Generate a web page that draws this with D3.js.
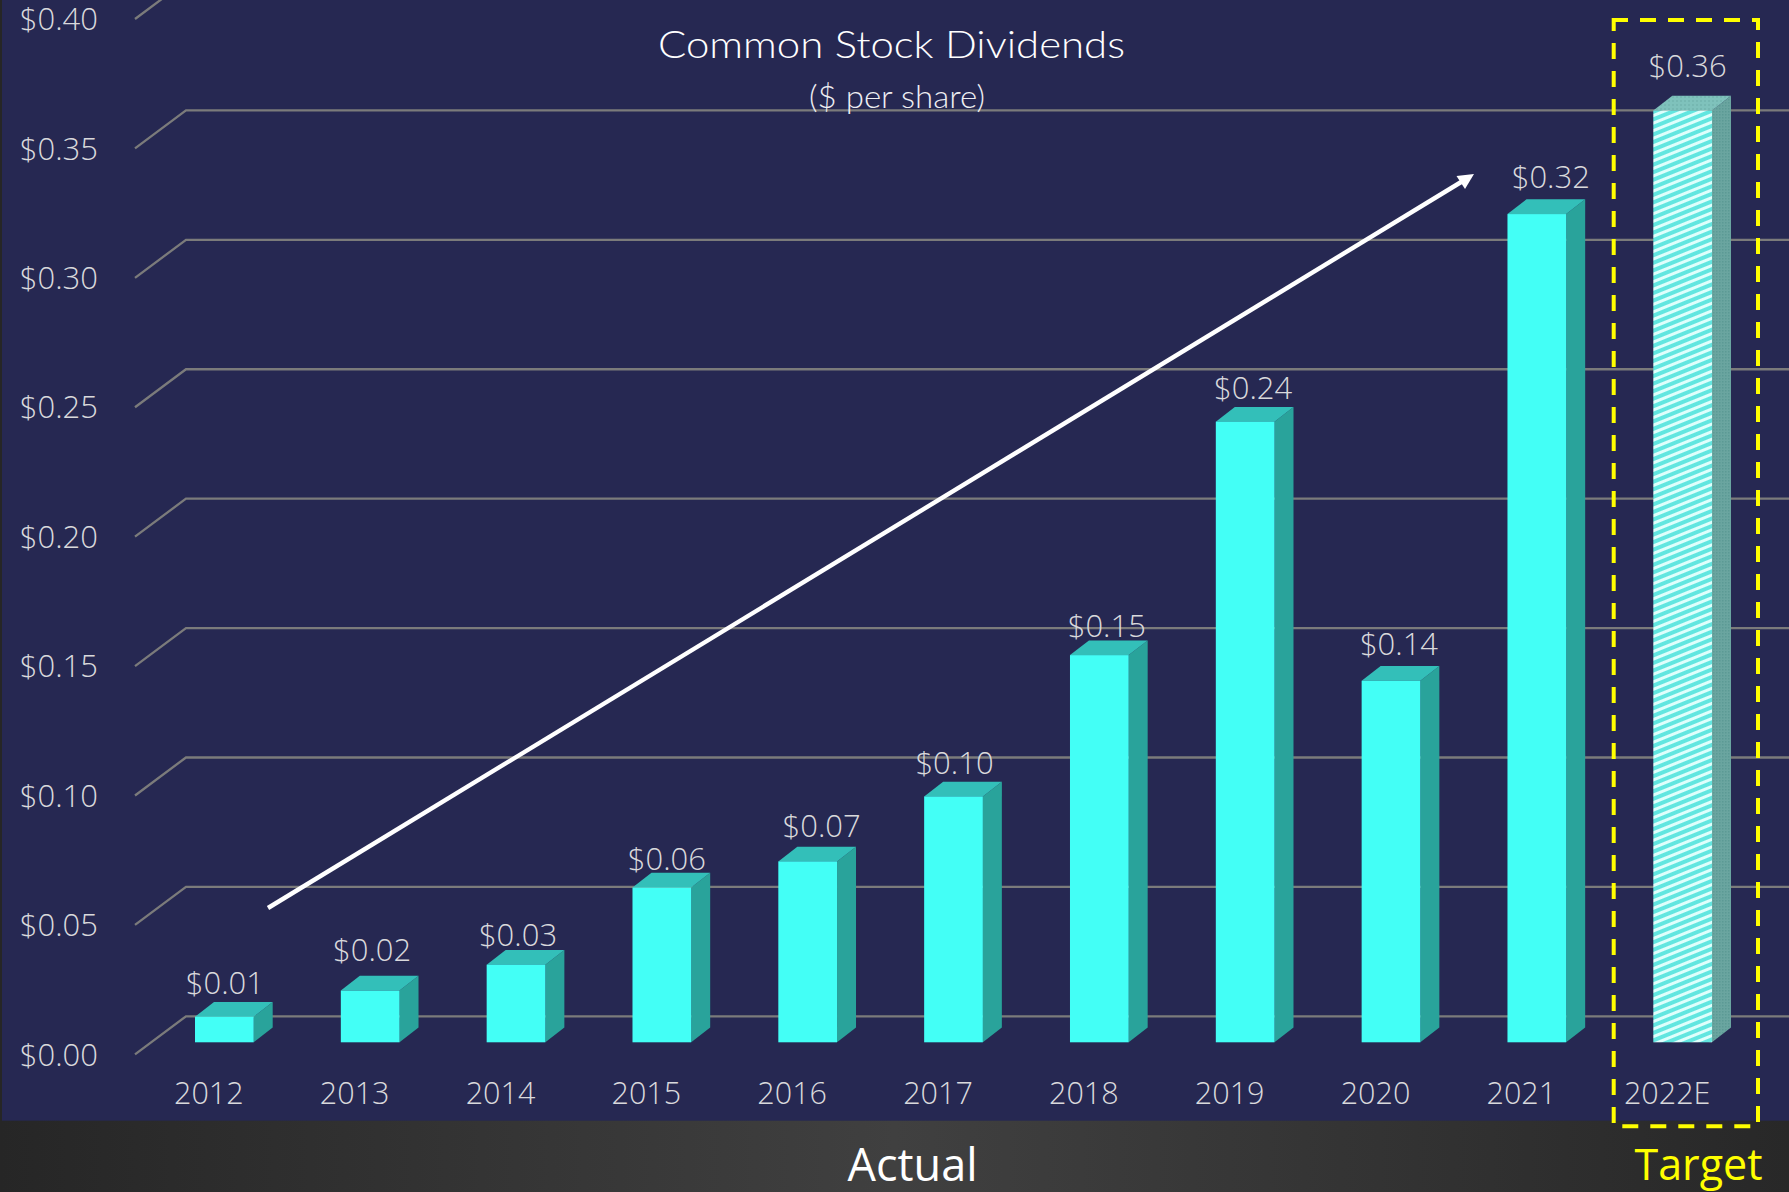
<!DOCTYPE html>
<html><head><meta charset="utf-8">
<script src="https://cdnjs.cloudflare.com/ajax/libs/d3/7.8.5/d3.min.js"></script>
<style>html,body{margin:0;padding:0;background:#262626;overflow:hidden}svg{display:block}
text{font-family:"Open Sans",sans-serif}</style></head><body><div id="c"></div>
<script>
const categories=["2012","2013","2014","2015","2016","2017","2018","2019","2020","2021","2022E"];
const barValues=[0.0099,0.02,0.03,0.0598,0.0699,0.095,0.1496,0.2398,0.1397,0.32,0.36];
const valueLabels=["$0.01","$0.02","$0.03","$0.06","$0.07","$0.10","$0.15","$0.24","$0.14","$0.32","$0.36"];
const yTicks=[0,0.05,0.10,0.15,0.20,0.25,0.30,0.35,0.40];

// layout (not data)
const W=1789,H=1192,step=145.83,barW=58.7;
const labelNudgeX=[0.5,2,2,5,14,1,7.5,8,8,14,5];
const labelGapY=[22.4,29.8,19,17.7,24.7,22.3,17.7,22.7,25.7,26,34];

const svg=d3.select("#c").append("svg").attr("width",W).attr("height",H);
const defs=svg.append("defs");
const g0=defs.append("linearGradient").attr("id","band").attr("x1",0).attr("x2",1).attr("y1",0).attr("y2",0);
[[0,"#262626"],[0.5,"#404040"],[1,"#282828"]].forEach(s=>g0.append("stop").attr("offset",s[0]).attr("stop-color",s[1]));
const pf=defs.append("pattern").attr("id","hatchFront").attr("patternUnits","userSpaceOnUse").attr("width",8).attr("height",7).attr("patternTransform","rotate(-22)");
pf.append("rect").attr("width",8).attr("height",7).attr("fill","#dffffc");
pf.append("rect").attr("y",0).attr("width",8).attr("height",4).attr("fill","#62e6e0");
const pt=defs.append("pattern").attr("id","hatchTop").attr("patternUnits","userSpaceOnUse").attr("width",4).attr("height",4);
pt.append("rect").attr("width",4).attr("height",4).attr("fill","#7fc2bc");
pt.append("rect").attr("width",2).attr("height",2).attr("fill","#76b8b2");
const ps=defs.append("pattern").attr("id","hatchSide").attr("patternUnits","userSpaceOnUse").attr("width",3).attr("height",3);
ps.append("rect").attr("width",3).attr("height",3).attr("fill","#6aa5a0");
ps.append("rect").attr("width",1.5).attr("height",1.5).attr("fill","#5b9a95");

svg.append("rect").attr("width",W).attr("height",H).attr("fill","url(#band)");
svg.append("rect").attr("x",2).attr("width",W-2).attr("height",1120.7).attr("fill","#262852");

// scales
const y=d3.scaleLinear().domain([0,0.4]).range([1054.3,19]);
const x0=195-(step-barW)/2;
const x=d3.scaleBand().domain(categories).range([x0,x0+step*categories.length]).paddingInner(1-barW/step).paddingOuter((1-barW/step)/2);
const wallDx=51,wallDy=-38,barDx=19,barDy=-14.7,floorLift=-12;

// gridlines
const grid=svg.append("g");
grid.selectAll("path").data(yTicks).join("path")
 .attr("d",v=>`M135,${y(v)}L${135+wallDx},${y(v)+wallDy}L${W},${y(v)+wallDy}`)
 .attr("fill","none").attr("stroke","#7b7b7b").attr("stroke-width",2.3);

// axes
const ya=svg.append("g").attr("transform","translate(98,0)")
 .call(d3.axisLeft(y).tickValues(yTicks).tickSize(0).tickPadding(0).tickFormat(d3.format("$.2f")));
ya.select(".domain").remove();
ya.selectAll("text").attr("dy",null).attr("y",10.7).attr("x",0).attr("text-anchor","end");

const xa=svg.append("g").attr("transform","translate(-15.5,1104.3)")
 .call(d3.axisBottom(x).tickSize(0).tickPadding(0));
xa.select(".domain").remove();
xa.selectAll("text").attr("y",0).attr("dy",null);
[ya,xa].forEach(a=>a.attr("font-family",null).attr("font-size",null).selectAll("text")
 .attr("font-size",a===ya?31:30.5).attr("font-weight",300).attr("fill","#d9d9dc").attr("font-family",'"Open Sans",sans-serif'));

// bars
const rows=categories.map((c,i)=>({c,v:barValues[i],i,est:c.endsWith("E")}));
const bars=svg.append("g").selectAll("g").data(rows).join("g");
const base=y(0)+floorLift, barTop=d=>y(d.v)+floorLift;
bars.append("polygon").attr("points",d=>{const l=x(d.c),r=l+x.bandwidth(),t=barTop(d);
  return [[r,t],[r+barDx,t+barDy],[r+barDx,base+barDy],[r,base]].join(" ");})
 .attr("fill",d=>d.est?"url(#hatchSide)":"#29a39b");
bars.append("polygon").attr("points",d=>{const l=x(d.c),r=l+x.bandwidth(),t=barTop(d);
  return [[l,t],[l+barDx,t+barDy],[r+barDx,t+barDy],[r,t]].join(" ");})
 .attr("fill",d=>d.est?"url(#hatchTop)":"#33bfb9");
bars.append("rect").attr("x",d=>x(d.c)).attr("y",barTop).attr("width",x.bandwidth()).attr("height",d=>base-barTop(d))
 .attr("fill",d=>d.est?"url(#hatchFront)":"#43fff6");
bars.append("text").attr("x",d=>x(d.c)+barW/2+labelNudgeX[d.i]).attr("y",d=>barTop(d)-labelGapY[d.i])
 .attr("text-anchor","middle").attr("font-size",31).attr("font-weight",300).attr("fill","#d9d9dc")
 .text(d=>valueLabels[d.i]);

// title
svg.append("text").attr("x",891.5).attr("y",58).attr("text-anchor","middle").attr("fill","#fff")
 .style("font-family","Lato").attr("font-size",38).attr("font-weight",300).attr("textLength",467).attr("lengthAdjust","spacingAndGlyphs").text("Common Stock Dividends");
svg.append("text").attr("x",897).attr("y",107.5).attr("text-anchor","middle").attr("fill","#eeeef2")
 .style("font-family","Lato").attr("font-size",32).attr("font-weight",300).attr("textLength",176).attr("lengthAdjust","spacingAndGlyphs").text("($ per share)");

// arrow
svg.append("line").attr("x1",268).attr("y1",908).attr("x2",1462).attr("y2",181.5).attr("stroke","#fff").attr("stroke-width",4.4);
svg.append("polygon").attr("points","1474,174 1456.5,176 1465,189").attr("fill","#fff");

// target box
svg.append("rect").attr("x",1613.7).attr("y",20).attr("width",144.3).attr("height",1106.3)
 .attr("fill","none").attr("stroke","#ffff00").attr("stroke-width",4).attr("stroke-dasharray","16 12").attr("stroke-dashoffset",1.7);

// band labels
svg.append("text").attr("x",912.5).attr("y",1181).attr("text-anchor","middle").attr("fill","#fff").attr("font-size",45).attr("font-weight",400).text("Actual");
svg.append("text").attr("x",1698.5).attr("y",1180).attr("text-anchor","middle").attr("fill","#ffff00").attr("font-size",43).attr("font-weight",400).text("Target");
</script></body></html>
